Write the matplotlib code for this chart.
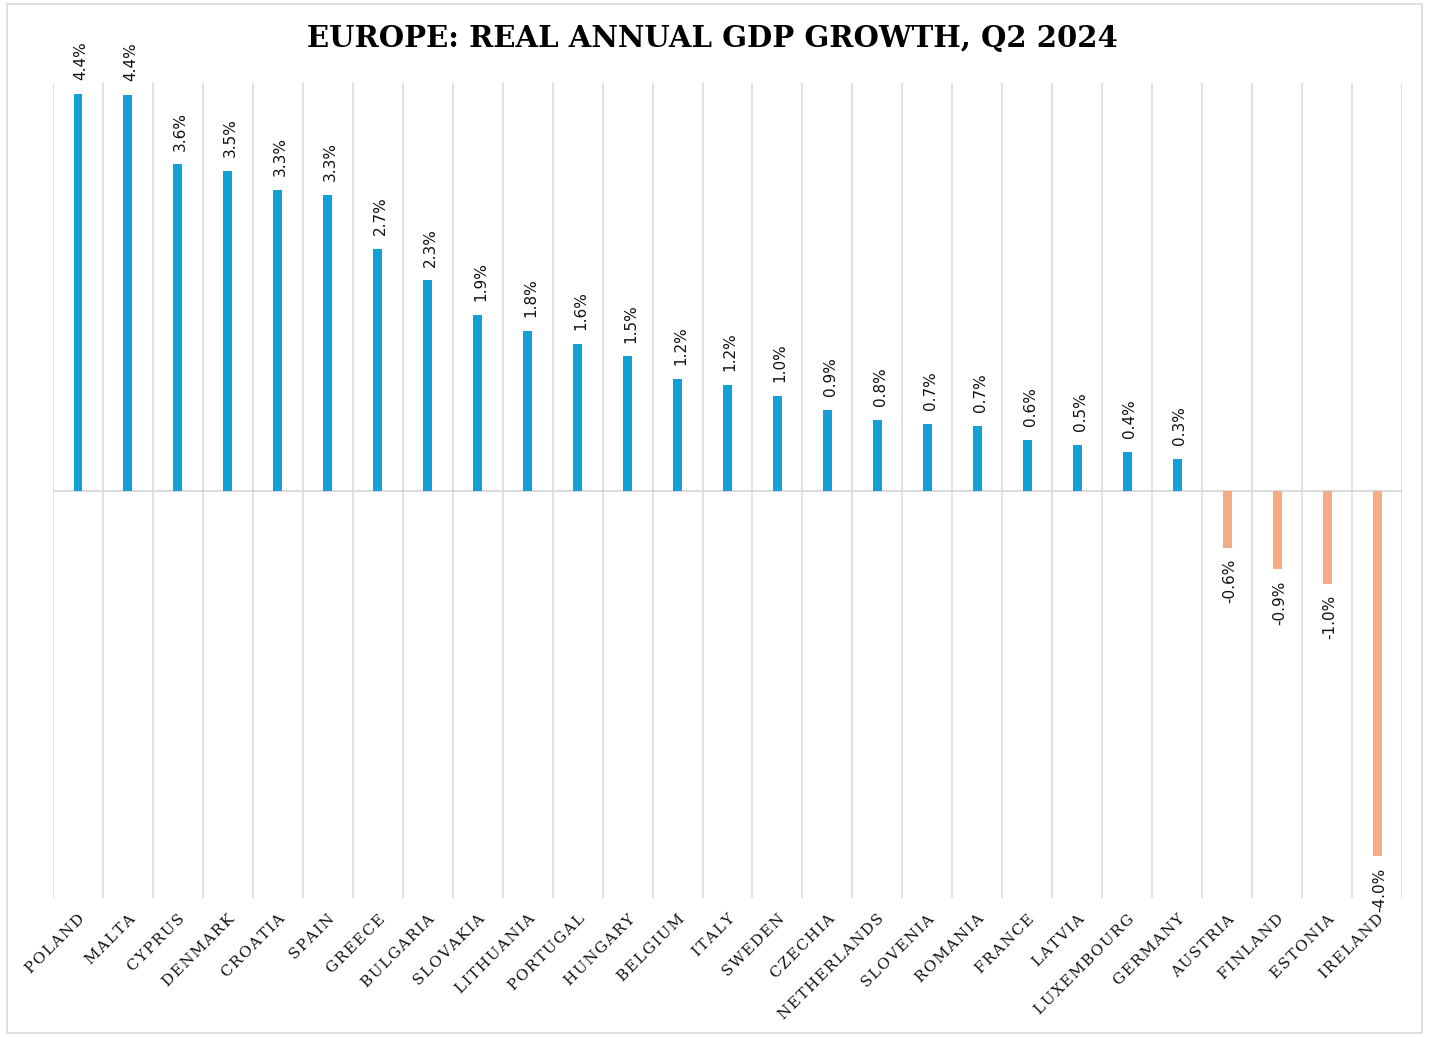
import matplotlib
matplotlib.use('Agg')
import numpy as np
import matplotlib.pyplot as plt
from matplotlib.patches import Rectangle

# data (annual real GDP growth, %)
countries = ['POLAND', 'MALTA', 'CYPRUS', 'DENMARK', 'CROATIA', 'SPAIN', 'GREECE',
             'BULGARIA', 'SLOVAKIA', 'LITHUANIA', 'PORTUGAL', 'HUNGARY', 'BELGIUM',
             'ITALY', 'SWEDEN', 'CZECHIA', 'NETHERLANDS', 'SLOVENIA', 'ROMANIA',
             'FRANCE', 'LATVIA', 'LUXEMBOURG', 'GERMANY', 'AUSTRIA', 'FINLAND',
             'ESTONIA', 'IRELAND']
growth = [4.38, 4.37, 3.60, 3.53, 3.32, 3.26, 2.67, 2.32, 1.94, 1.76, 1.62, 1.48,
          1.23, 1.17, 1.04, 0.89, 0.78, 0.73, 0.71, 0.56, 0.50, 0.43, 0.35,
          -0.63, -0.87, -1.03, -4.04]
labels = ['4.4%', '4.4%', '3.6%', '3.5%', '3.3%', '3.3%', '2.7%', '2.3%', '1.9%',
          '1.8%', '1.6%', '1.5%', '1.2%', '1.2%', '1.0%', '0.9%', '0.8%', '0.7%',
          '0.7%', '0.6%', '0.5%', '0.4%', '0.3%', '-0.6%', '-0.9%', '-1.0%', '-4.0%']

BLUE = '#12A0D7'
SALMON = '#F4AB87'
GRID = '#D9D9D9'


def spaced(s):
    # fake letter spacing with hair spaces
    return '\u200a'.join(s)


fig = plt.figure(figsize=(14.29, 10.37), dpi=100)
fig.patches.append(Rectangle((0.005, 0.004), 0.99, 0.992, transform=fig.transFigure,
                             fill=False, edgecolor='#D9D9D9', linewidth=1.2))
ax = fig.add_axes([0.0371, 0.134, 0.944, 0.786])

x = np.arange(len(countries))
colors = [BLUE if v >= 0 else SALMON for v in growth]
ax.bar(x, growth, width=0.18, color=colors, zorder=3)

# vertical gridlines between categories
for b in np.arange(-0.5, len(countries)):
    ax.axvline(b, color=GRID, linewidth=1.1, zorder=1)
ax.axhline(0, color=GRID, linewidth=1.3, zorder=2)

for xi, v, lab in zip(x, growth, labels):
    if v >= 0:
        ax.annotate(lab, (xi, v), xytext=(2, 10), textcoords='offset points',
                    rotation=90, ha='center', va='bottom', fontsize=11,
                    family='DejaVu Sans', color='#111111')
    else:
        ax.annotate(lab, (xi, v), xytext=(2, -8), textcoords='offset points',
                    rotation=90, ha='center', va='top', fontsize=11,
                    family='DejaVu Sans', color='#111111')

ax.set_xlim(-0.5, len(countries) - 0.5)
ax.set_ylim(-4.5, 4.5)
ax.set_yticks([])
ax.set_xticks(x)
ax.set_xticklabels([spaced(c) for c in countries], rotation=45, ha='right',
                   rotation_mode='anchor', family='DejaVu Serif', fontsize=11,
                   color='#111111')
ax.tick_params(axis='x', length=0, pad=10)
for s in ax.spines.values():
    s.set_visible(False)

fig.text(0.4985, 0.9625, 'EUROPE: REAL ANNUAL GDP GROWTH, Q2 2024',
         ha='center', va='center', family='DejaVu Serif', fontweight='bold',
         fontsize=21)

fig.savefig('out.png', dpi=100)
